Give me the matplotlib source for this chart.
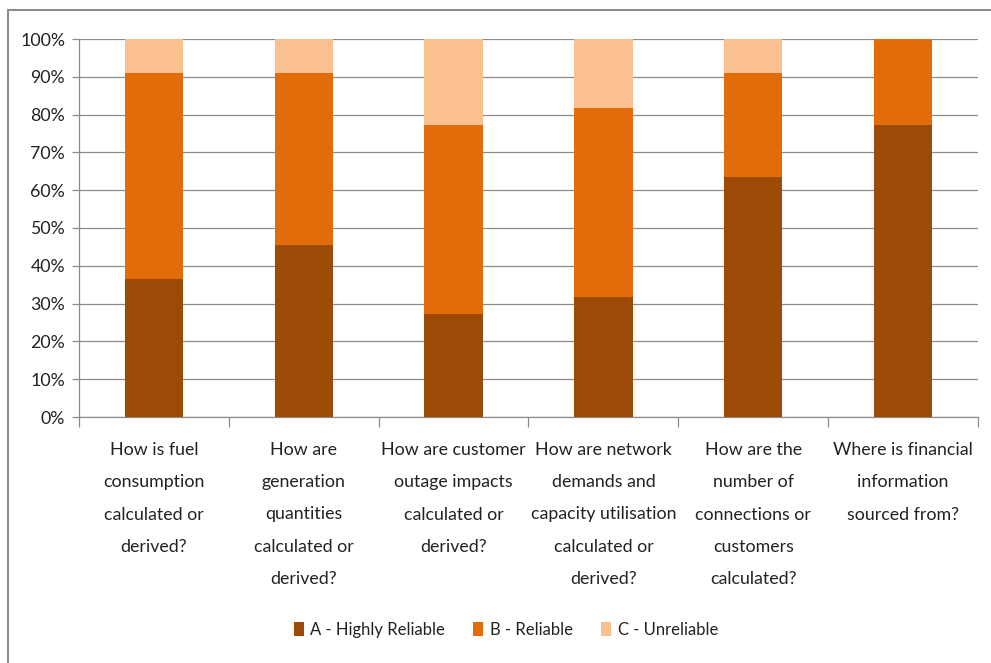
import numpy as np
import matplotlib.pyplot as plt
import matplotlib.patches as mpatches
from matplotlib.ticker import FuncFormatter

#==============================================================================
#DATA
#==============================================================================

categories = ['How is fuel\nconsumption\ncalculated or\nderived?',
              'How are\ngeneration\nquantities\ncalculated or\nderived?',
              'How are customer\noutage impacts\ncalculated or\nderived?',
              'How are network\ndemands and\ncapacity utilisation\ncalculated or\nderived?',
              'How are the\nnumber of\nconnections or\ncustomers\ncalculated?',
              'Where is financial\ninformation\nsourced from?']
series_names = ['A - Highly Reliable', 'B - Reliable', 'C - Unreliable']
highly_reliable = [36.4, 45.5, 27.3, 31.8, 63.6, 77.3]
reliable = [54.5, 45.5, 50.0, 50.0, 27.3, 22.7]
unreliable = [9.1, 9.1, 22.7, 18.2, 9.1, 0.0]
colors = ['#9C4A06', '#E36C0A', '#FAC090']

#==============================================================================
#PLOT
#==============================================================================

plt.rcParams['font.family'] = ['Lato', 'DejaVu Sans']
fs = 12.8

W, H = 991, 663
f = plt.figure(figsize=(W/100, H/100), dpi=100)
ax = f.add_axes([79/W, 1-417/H, (978-79)/W, (417-39)/H])

x = np.arange(len(categories))
vals = [highly_reliable, reliable, unreliable]
bottom = np.zeros(len(categories))
handles = []
for v, c, n in zip(vals, colors, series_names):
    b = ax.bar(x, v, bottom=bottom, width=0.39, color=c, label=n, zorder=3)
    bottom += np.array(v)
    handles.append(b)

ax.set_xlim(-0.5, len(categories)-0.5)
ax.set_ylim(0, 100)
ax.set_yticks(np.arange(0, 101, 10))
ax.yaxis.set_major_formatter(FuncFormatter(lambda v, p: '%d%%' % v))
ax.yaxis.grid(True, color='#8c8c8c', linewidth=0.9, zorder=0)

ax.set_xticks(np.arange(-0.5, len(categories), 1.0))
ax.set_xticklabels([])
ax.set_xticks(x, minor=True)
ax.set_xticklabels(categories, minor=True, fontsize=fs, color='#222222',
                   linespacing=2.25, va='top')
ax.tick_params(axis='x', which='minor', length=0, pad=18)
ax.tick_params(axis='x', which='major', length=7, color='#8c8c8c', width=0.9)
ax.tick_params(axis='y', length=5, color='#8c8c8c', width=0.9,
               labelsize=fs, labelcolor='#222222', pad=5)

for s in ['top', 'right']:
    ax.spines[s].set_visible(False)
for s in ['left', 'bottom']:
    ax.spines[s].set_color('#8c8c8c')
    ax.spines[s].set_linewidth(0.9)

leg = f.legend(handles=handles, loc='center', bbox_to_anchor=(506/W, 1-630/H),
               ncol=3, frameon=False, fontsize=12, handlelength=0.6,
               handleheight=0.9, handletextpad=0.4, columnspacing=1.7)
for t in leg.get_texts():
    t.set_color('#222222')

# outer chart frame
f.patches.append(mpatches.Rectangle((8/W, -0.05), 1.05, 1-10/H+0.05,
                                    transform=f.transFigure, fill=False,
                                    edgecolor='#8c8c8c', linewidth=1.5))

f.savefig('out.png', dpi=100)
